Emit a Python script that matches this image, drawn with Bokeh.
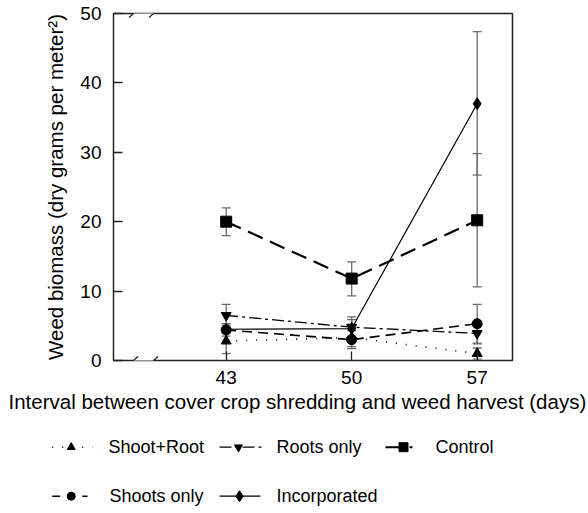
from bokeh.plotting import figure
from bokeh.models import (ColumnDataSource, Whisker, TeeHead, FixedTicker, Range1d,
                          Title, BoxAnnotation, Arrow)
from bokeh.embed import file_html
from bokeh.resources import INLINE
from bokeh.core.properties import value

# ---------------- data ----------------
days = [43, 50, 57]

shoot_root = [2.8, 3.3, 1.0]
shoot_root_lo = [1.0, 2.0, 0.2]
shoot_root_hi = [4.6, 4.6, 1.8]

roots_only = [6.5, 4.8, 3.9]
roots_only_lo = [4.8, 3.3, 2.4]
roots_only_hi = [8.1, 6.3, 5.4]

control = [20.0, 11.8, 20.2]
control_lo = [18.0, 9.3, 10.6]
control_hi = [22.0, 14.2, 29.8]

shoots_only = [4.4, 3.0, 5.3]
shoots_only_lo = [3.5, 1.7, 2.5]
shoots_only_hi = [5.3, 4.3, 8.1]

incorporated = [4.5, 4.6, 37.0]
incorporated_lo = [3.9, 3.5, 26.7]
incorporated_hi = [5.1, 5.9, 47.4]

y_ticks = [0, 10, 20, 30, 40, 50]
x_ticks = [43, 50, 57]

series_names = ["Shoot+Root", "Roots only", "Control", "Shoots only", "Incorporated"]
x_label = "Interval between cover crop shredding and weed harvest (days)"
y_label = "Weed biomass (dry grams per meter\u00b2)"

FONT = "Liberation Sans"
W = 588
MAIN_H = 423
EB = "#6a6a6a"

src = ColumnDataSource(dict(
    days=days,
    shoot_root=shoot_root, shoot_root_lo=shoot_root_lo, shoot_root_hi=shoot_root_hi,
    roots_only=roots_only, roots_only_lo=roots_only_lo, roots_only_hi=roots_only_hi,
    control=control, control_lo=control_lo, control_hi=control_hi,
    shoots_only=shoots_only, shoots_only_lo=shoots_only_lo, shoots_only_hi=shoots_only_hi,
    incorporated=incorporated, incorporated_lo=incorporated_lo, incorporated_hi=incorporated_hi,
))

p = figure(width=W, height=MAIN_H, x_range=Range1d(36.715, 58.97), y_range=Range1d(0, 50),
           output_backend="svg", toolbar_location=None,
           min_border_left=113, min_border_right=76, min_border_top=13,
           min_border_bottom=MAIN_H - 360)
p.xgrid.grid_line_color = None
p.ygrid.grid_line_color = None
p.outline_line_color = "#222222"
p.outline_line_width = 1.5
p.background_fill_color = "white"

for ax in (p.xaxis[0], p.yaxis[0]):
    ax.axis_line_color = None
    ax.major_tick_in = 9
    ax.major_tick_out = 0
    ax.minor_tick_line_color = None
    ax.major_tick_line_color = "#222222"
    ax.major_tick_line_width = 1.3
    ax.major_label_text_font = FONT
    ax.major_label_text_font_size = "19px"
    ax.major_label_text_color = "black"

p.xaxis.ticker = FixedTicker(ticks=x_ticks)
p.yaxis.ticker = FixedTicker(ticks=y_ticks)
p.xaxis.major_label_standoff = 10
p.yaxis.major_label_standoff = 12
p.yaxis.axis_label = y_label
p.yaxis.axis_label_text_font = FONT
p.yaxis.axis_label_text_font_size = "20.5px"
p.yaxis.axis_label_text_font_style = "normal"
p.yaxis.axis_label_text_color = "black"
p.yaxis.axis_label_standoff = 10

# x axis label, starting near the left page edge as in the original
p.add_layout(Title(text=x_label, align="left", offset=-105, standoff=2,
                   text_font=FONT, text_font_size="20.5px", text_font_style="normal",
                   text_color="black"), "below")

# axis breaks
for yb, yt in ((-4, 4), (343, 351)):
    p.add_layout(BoxAnnotation(left=20, right=40, bottom=yb, top=yt,
                               left_units="screen", right_units="screen",
                               bottom_units="screen", top_units="screen",
                               fill_color="white", fill_alpha=1.0, line_color=None,
                               level="overlay"))
for yc in (0, 347):
    for xc in (20, 40):
        p.add_layout(Arrow(x_start=xc - 4.5, y_start=yc - 4, x_end=xc + 4.5, y_end=yc + 4,
                           start_units="screen", end_units="screen", end=None,
                           line_color="#222222", line_width=1.3, level="overlay"))

# error bars
for key in ["control", "incorporated", "roots_only", "shoots_only", "shoot_root"]:
    p.add_layout(Whisker(base="days", lower=key + "_lo", upper=key + "_hi", source=src,
                         line_color=EB, line_width=1.3,
                         upper_head=TeeHead(size=9, line_color=EB, line_width=1.3),
                         lower_head=TeeHead(size=9, line_color=EB, line_width=1.3)))

# lines
p.line("days", "shoot_root", source=src, line_color="black", line_width=1.6, line_dash="1 9")
p.line("days", "roots_only", source=src, line_color="black", line_width=1.3, line_dash="12 4 3 4")
p.line("days", "control", source=src, line_color="black", line_width=2.2, line_dash="16 8")
p.line("days", "shoots_only", source=src, line_color="black", line_width=1.6, line_dash="10 6")
p.line("days", "incorporated", source=src, line_color="black", line_width=1.2)

# markers
p.scatter("days", "shoot_root", source=src, marker="triangle", size=10, color="black")
p.scatter("days", "roots_only", source=src, marker="inverted_triangle", size=10, color="black")
p.scatter("days", "control", source=src, marker="square", size=11, color="black")
p.scatter("days", "shoots_only", source=src, marker="circle", size=10, color="black")
p.scatter("days", "incorporated", source=src, marker="diamond", size=12, color="black")

# ---------------- legend (separate root, full-width frame) ----------------
LH = 513 - MAIN_H
lg = figure(width=W, height=LH, x_range=Range1d(0, W), y_range=Range1d(LH, 0),
            output_backend="svg", toolbar_location=None, min_border=0)
lg.axis.visible = False
lg.xgrid.grid_line_color = None
lg.ygrid.grid_line_color = None
lg.outline_line_color = None

row1, row2 = 446.7 - MAIN_H, 495.7 - MAIN_H
leg_layout = [
    # (x0, x1, marker x, text x, y, dash, width, marker, size)
    (51.7, 92, 70.7, 108, row1, "1 9", 1.6, "triangle", 8),
    (219, 262, 238, 276, row1, "12 4 3 4", 1.3, "inverted_triangle", 8),
    (385, 412, 403, 435, row1, "16 8", 2.0, "square", 9),
    (51.7, 87, 70.7, 109, row2, "8 22", 1.6, "circle", 8),
    (219, 260, 239, 276, row2, "solid", 1.2, "diamond", 11),
]
for name, (x0, x1, xm, xt, yy, dash, lw, mk, sz) in zip(series_names, leg_layout):
    lg.line([x0, x1], [yy, yy], line_color="black", line_width=lw, line_dash=dash)
    lg.scatter([xm], [yy], marker=mk, size=sz, color="black")
    lg.text([xt], [yy], text=[name], text_font=value(FONT), text_font_size="18px",
            text_baseline="middle", text_align="left", text_color="black")

open("out.html", "w").write(file_html([p, lg], INLINE))
